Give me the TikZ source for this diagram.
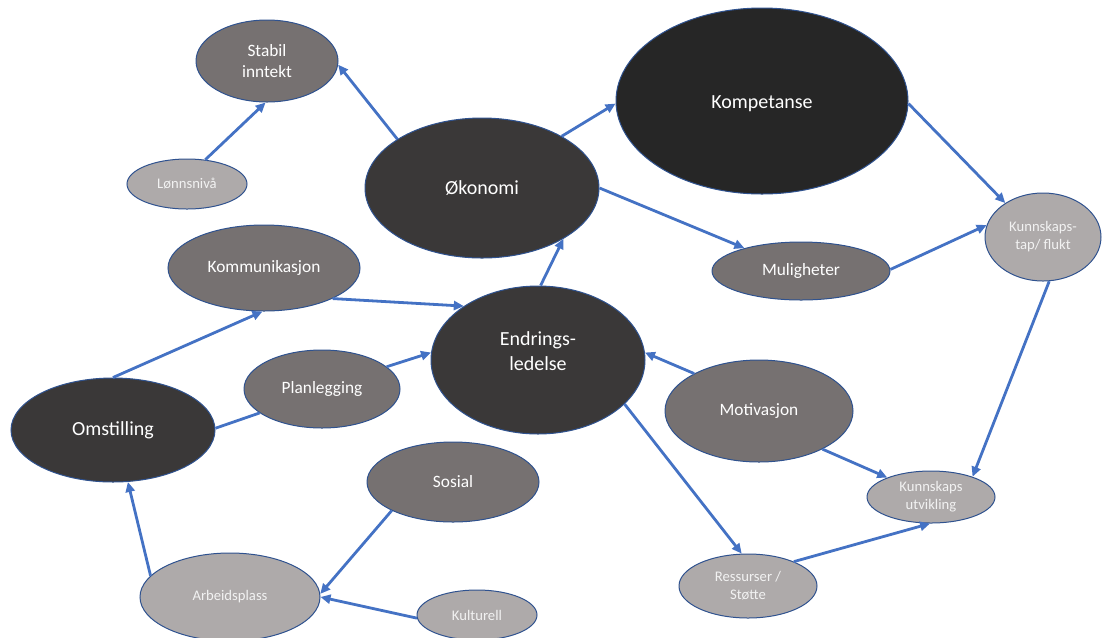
\documentclass[tikz,border=0pt]{standalone}
\usepackage{fontspec}
\setmainfont{Carlito}
\usetikzlibrary{shapes.geometric,arrows.meta}
\definecolor{dk}{HTML}{3A3838}
\definecolor{dkk}{HTML}{262626}
\definecolor{md}{HTML}{767171}
\definecolor{lt}{HTML}{AEAAAA}
\definecolor{edge}{HTML}{2F528F}
\definecolor{arrowc}{HTML}{4472C4}
\begin{document}
\begin{tikzpicture}[x=0.75pt,y=-0.75pt,
  el/.style n args={3}{ellipse, draw=edge, line width=0.75pt, fill=#3,
    minimum width=#1*0.75pt, minimum height=#2*0.75pt, inner sep=0pt,
    align=center, text=white},
  big/.style={font=\fontsize{15}{18.5}\selectfont},
  mid/.style={font=\fontsize{13}{16}\selectfont},
  sml/.style={font=\fontsize{11}{13.5}\selectfont, text=white!95!black},
  lbl/.style={align=center, text=white, inner sep=0pt},
  arr/.style={draw=arrowc, line width=2.1pt, -{Triangle[length=7.5pt,width=6.8pt]}},
  ln/.style={draw=arrowc, line width=2.1pt}]
\useasboundingbox (0,0) rectangle (1103,637);

% nodes
\node[el={142}{82}{md}, mid] (stabil) at (267,61) {Stabil\\inntekt};
\node[el={120}{50}{lt}, sml] (lonn) at (187,184) {Lønnsnivå};
\node[el={234}{140}{dk}, big] (okonomi) at (482,188) {Økonomi};
\node[el={292}{186}{dkk}] (komp) at (762,101) {};
\node[lbl, big] (komptxt) at (762,104) {Kompetanse};
\node[el={116}{88}{lt}, sml] (ktap) at (1043,237) {Kunnskaps-\\tap/ flukt};
\node[el={178}{58}{md}, mid] (mulig) at (801,271) {Muligheter};
\node[el={192}{86}{md}, mid] (kommu) at (264,268) {Kommunikasjon};
\node[el={214}{148}{dk}] (endr) at (538,360) {};
\node[lbl, big] (endrtxt) at (538,351) {Endrings-\\ledelse};
\node[el={188}{102}{md}, mid] (motiv) at (759,411) {Motivasjon};
\node[el={156}{78}{md}, mid] (plan) at (322,389) {Planlegging};
\node[el={204}{104}{dk}, big] (omst) at (113,430) {Omstilling};
\node[el={172}{80}{md}, mid] (sosial) at (453,482) {Sosial};
\node[el={128}{52}{lt}, sml] (kutv) at (931,497) {Kunnskaps\\utvikling};
\node[el={138}{64}{lt}, sml] (ress) at (748,586) {Ressurser /\\Støtte};
\node[el={180}{88}{lt}, sml] (arb) at (230,597) {Arbeidsplass};
\node[el={120}{50}{lt}, sml] (kult) at (477,615) {Kulturell};

% connectors
\draw[arr] (lonn.53) -- (stabil.-92);
\draw[arr] (okonomi.150) -- (stabil.-3);
\draw[arr] (okonomi.33) -- (komp.181);
\draw[arr] (okonomi.0) -- (mulig.158);
\draw[arr] (komp.-1) -- (ktap.138);
\draw[arr] (mulig.1) -- (ktap.168);
\draw[arr] (ktap.-82) -- (kutv.26);
\draw[arr] (endr.88) -- (okonomi.-32);
\draw[arr] (kommu.-24) -- (endr.144);
\draw[arr] (omst.90) -- (kommu.-92);
\draw[ln] (omst.1) -- (plan.201);
\draw[arr] (plan.19) -- (endr.176);
\draw[arr] (motiv.150) -- (endr.4);
\draw[arr] (motiv.-31) -- (kutv.156);
\draw[arr] (endr.-27) -- (ress.101);
\draw[arr] (ress.28) -- (kutv.-92);
\draw[arr] (arb.165) -- (omst.-74);
\draw[arr] (sosial.-155) -- (arb.2);
\draw[arr] (kult.183) -- (arb.0);
\end{tikzpicture}
\end{document}
